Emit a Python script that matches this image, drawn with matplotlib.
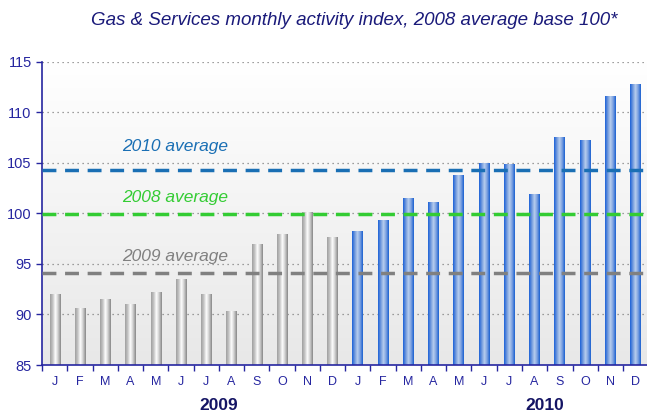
import numpy as np
import matplotlib
matplotlib.use("Agg")
import matplotlib.pyplot as plt
from matplotlib.colors import LinearSegmentedColormap

plt.rcParams['font.family'] = ['Liberation Sans', 'DejaVu Sans']

# data
months = ['J', 'F', 'M', 'A', 'M', 'J', 'J', 'A', 'S', 'O', 'N', 'D']
index_2009 = [92.0, 90.6, 91.5, 91.0, 92.2, 93.5, 92.0, 90.3, 96.9, 97.9, 100.1, 97.6]
index_2010 = [98.2, 99.3, 101.5, 101.1, 103.7, 104.9, 104.8, 101.9, 107.5, 107.2, 111.6, 112.8]
avg_2008 = 99.9
avg_2009 = 94.1
avg_2010 = 104.3

navy = '#2626a0'
ymin, ymax = 85, 115

fig = plt.figure(figsize=(6.47, 4.12), dpi=100)
ax = fig.add_axes([0.065, 0.114, 0.937, 0.736])

# plot background: white at top, light grey at bottom
bg = np.linspace(0, 1, 256).reshape(-1, 1)
bg_cmap = LinearSegmentedColormap.from_list('bg', ['#e8e8e8', '#ffffff'])
ax.imshow(bg, cmap=bg_cmap, extent=(-0.5, 23.5, ymin, ymax), aspect='auto',
          origin='lower', zorder=0)

# gridlines
for y in range(90, 116, 5):
    ax.axhline(y, color='#808080', lw=0.9, ls=(0, (1, 3)), zorder=1)

grey_cmap = LinearSegmentedColormap.from_list('grey', ['#a0a0a0', '#c4c4c4', '#ffffff', '#cccccc', '#888888'])
blue_cmap = LinearSegmentedColormap.from_list('blue', ['#1c62d8', '#6f98dc', '#b8ceee', '#7aa0e0', '#1a60d0'])
grad = np.linspace(0, 1, 64).reshape(1, -1)

values = index_2009 + index_2010
for i, v in enumerate(values):
    if i < 12:
        w, cm = 0.40, grey_cmap
    else:
        w, cm = 0.43, blue_cmap
    ax.imshow(grad, cmap=cm, extent=(i - w / 2, i + w / 2, ymin, v),
              aspect='auto', zorder=2)

# average lines
ax.axhline(avg_2010, color='#1a6fb4', lw=2.5, ls=(0, (4, 2.5)), zorder=3)
ax.axhline(avg_2008, color='#33cc33', lw=2.5, ls=(0, (4, 2.5)), zorder=3)
ax.axhline(avg_2009, color='#808080', lw=2.5, ls=(0, (4, 2.5)), zorder=3)

ax.text(4.75, 106.6, '2010 average', color='#1a6fb4', fontsize=12.5, style='italic',
        ha='center', va='center', zorder=4)
ax.text(4.75, 101.6, '2008 average', color='#33cc33', fontsize=12.5, style='italic',
        ha='center', va='center', zorder=4)
ax.text(4.75, 95.7, '2009 average', color='#808080', fontsize=12.5, style='italic',
        ha='center', va='center', zorder=4)

ax.set_xlim(-0.5, 23.5)
ax.set_ylim(ymin, ymax)

ax.set_yticks(range(85, 116, 5))
ax.tick_params(axis='y', colors=navy, labelsize=10.5, length=4, width=1, direction='out')

ax.set_xticks(np.arange(-0.5, 24, 1))
ax.set_xticklabels([])
ax.tick_params(axis='x', which='major', colors=navy, length=4, width=1, direction='out')
ax.set_xticks(np.arange(24), minor=True)
ax.set_xticklabels(months + months, minor=True)
ax.tick_params(axis='x', which='minor', length=0, labelsize=9, labelcolor=navy, pad=8)

for s in ['top', 'right']:
    ax.spines[s].set_visible(False)
for s in ['left', 'bottom']:
    ax.spines[s].set_color(navy)
    ax.spines[s].set_linewidth(1.2)

ax.text(6.5, 81.0, '2009', color='#141464', fontsize=12.5, fontweight='bold', ha='center', va='center',
        clip_on=False)
ax.text(19.4, 81.0, '2010', color='#141464', fontsize=12.5, fontweight='bold', ha='center', va='center',
        clip_on=False)

fig.text(0.547, 0.95, 'Gas & Services monthly activity index, 2008 average base 100*',
         color='#1a1a7a', fontsize=13.5, style='italic', ha='center', va='center')

fig.savefig('out.png', dpi=100)
